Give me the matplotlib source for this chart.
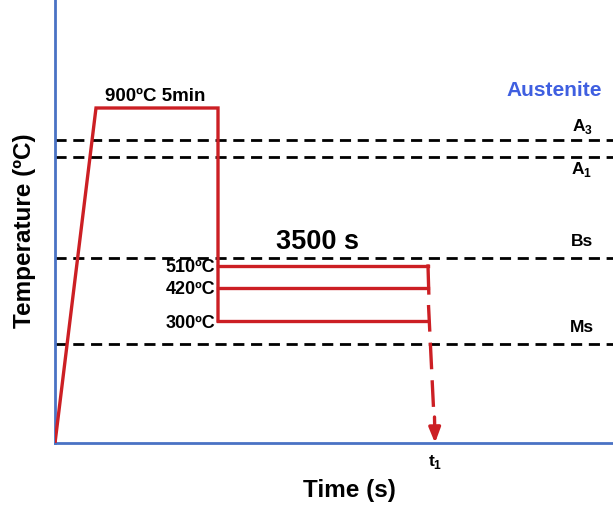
import matplotlib.pyplot as plt

plt.rcParams['font.family'] = ['Liberation Sans', 'DejaVu Sans']
plt.rcParams['mathtext.fontset'] = 'custom'
plt.rcParams['mathtext.rm'] = 'Liberation Sans:bold'
plt.rcParams['mathtext.bf'] = 'Liberation Sans:bold'

RED = '#cc1f24'
BLUE = '#4a72c4'

# schematic heat-treatment path (arbitrary time / temperature units)
heat_t = [0, 41, 163, 163]
heat_T = [0, 335, 335, 122]
hold_T = [177, 155, 122]
hold_labels = ['510ºC', '420ºC', '300ºC']
hold_start = 163
hold_end = 373
t1 = 380

# critical temperatures
crit_names = ['A$_3$', 'A$_1$', 'Bs', 'Ms']
crit_T = [303, 286, 185, 99]
crit_offset = [14, -12, 17, 17]

fig = plt.figure(figsize=(6.13, 5.05), dpi=100)
ax = fig.add_axes([55/613, 62/505, 558/613, 443/505])
ax.set_xlim(0, 558)
ax.set_ylim(0, 443)

for s in ['top', 'right']:
    ax.spines[s].set_visible(False)
for s in ['left', 'bottom']:
    ax.spines[s].set_color(BLUE)
    ax.spines[s].set_linewidth(2)
ax.set_xticks([])
ax.set_yticks([])

for name, T, off in zip(crit_names, crit_T, crit_offset):
    ax.axhline(T, color='black', linewidth=2.0, linestyle=(0, (4.0, 2.4)), zorder=1)
    ax.text(527, T + off, name, fontsize=12.5, fontweight='bold', ha='center', va='center')

ax.plot(heat_t, heat_T, color=RED, linewidth=2.4, solid_joinstyle='miter', zorder=3)

for T, lab in zip(hold_T, hold_labels):
    ax.plot([hold_start, hold_end], [T, T], color=RED, linewidth=2.4, zorder=3)
    ax.text(hold_start - 3, T - 2, lab, fontsize=13, fontweight='bold', ha='right', va='center')

# end of holding and final quench
ax.plot([hold_end, hold_end + 0.8], [hold_T[0], hold_T[1] - 5], color=RED, linewidth=2.4, zorder=3)
ax.plot([hold_end + 0.5, t1 - 1.5], [hold_T[1] - 17, 35], color=RED, linewidth=2.4,
        linestyle=(0, (8.0, 3.3)), zorder=3)
ax.annotate('', xy=(t1, 0), xytext=(t1 - 0.5, 26),
            arrowprops=dict(arrowstyle='-|>,head_length=0.9,head_width=0.35', color=RED,
                            lw=2.4, shrinkA=0, shrinkB=0))

ax.text((heat_t[1] + heat_t[2]) / 2 - 2, heat_T[1] + 12, '900ºC 5min', fontsize=13.5,
        fontweight='bold', ha='center', va='center')
ax.text((hold_start + hold_end) / 2 - 5, 201, '3500 s', fontsize=19.5, fontweight='bold',
        ha='center', va='center')
ax.text(499, 353, 'Austenite', fontsize=15, fontweight='bold', color='#3f5fe0',
        ha='center', va='center')
ax.text(t1, -19, 't$_1$', fontsize=12.5, fontweight='bold', ha='center', va='center')

ax.set_xlabel('Time (s)', fontsize=17.5, fontweight='bold')
ax.xaxis.set_label_coords(294 / 558, -36 / 443)
ax.set_ylabel('Temperature (ºC)', fontsize=17.5, fontweight='bold')
ax.yaxis.set_label_coords(-19 / 558, 212 / 443)

fig.savefig('out.png', dpi=100)
